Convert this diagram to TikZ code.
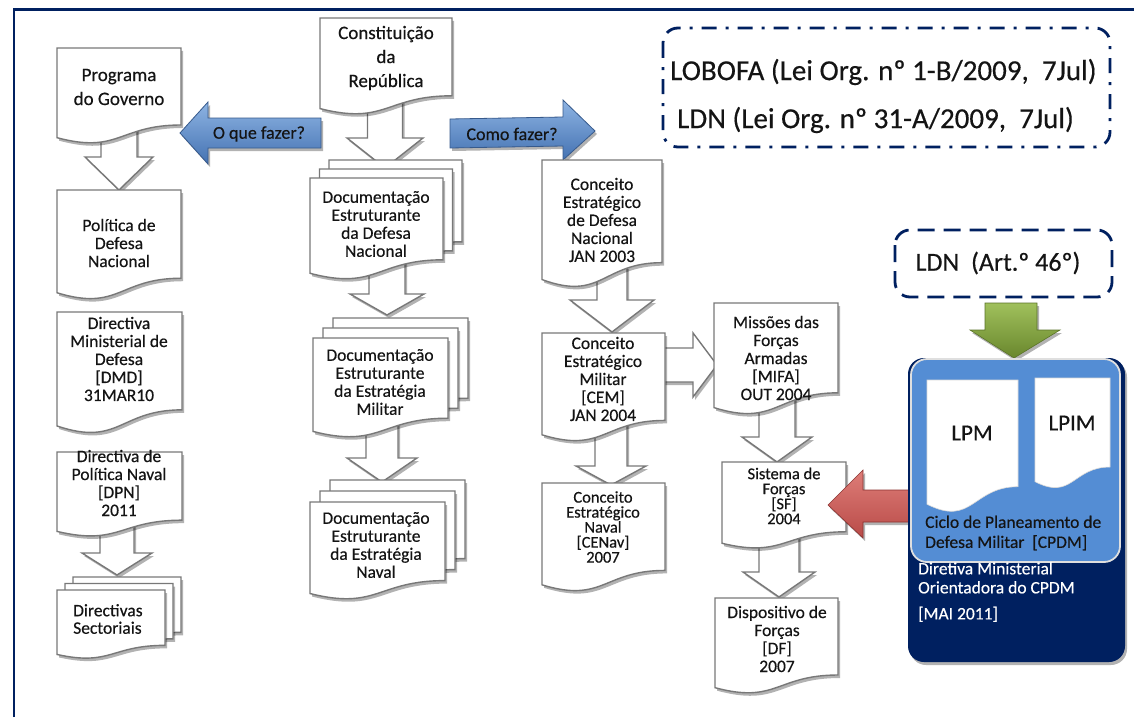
\documentclass[tikz,border=0pt]{standalone}
\usepackage{fontspec}
\setmainfont{Carlito}[FakeBold=0.4]
\usetikzlibrary{calc,fit,shadows}
\definecolor{navy}{RGB}{0,32,96}
\definecolor{lblue}{RGB}{84,141,212}
\definecolor{bluetop}{RGB}{142,180,227}
\definecolor{bluebot}{RGB}{68,114,178}
\definecolor{bluedraw}{RGB}{55,90,140}
\definecolor{greentop}{RGB}{160,192,92}
\definecolor{greenbot}{RGB}{105,135,45}
\definecolor{greendraw}{RGB}{90,115,40}
\definecolor{redtop}{RGB}{222,125,120}
\definecolor{redbot}{RGB}{185,75,72}
\definecolor{reddraw}{RGB}{140,50,48}
\definecolor{boxgray}{RGB}{120,120,120}
\pgfdeclarelayer{arrowlayer}
\pgfdeclarelayer{boxlayer}
\pgfsetlayers{arrowlayer,boxlayer,main}
\tikzset{
  geo/.style={inner sep=0pt, outer sep=0pt, draw=none},
  shad/.style={drop shadow={shadow xshift=2pt, shadow yshift=-3pt, opacity=0.3, fill=black}},
  docline/.style={fill=white, draw=boxgray, line width=1.4pt, shad},
  lpdoc/.style={fill=white, draw=white!85!black, line width=0.6pt},
  warrow/.style={fill=white, draw=boxgray, line width=1.4pt, line join=miter, shad},
  barrow/.style={top color=bluetop, bottom color=bluebot, draw=bluedraw, line width=0.8pt, shad},
  garrow/.style={top color=greentop, bottom color=greenbot, draw=greendraw, line width=0.6pt, shad},
  rarrow/.style={top color=redtop, bottom color=redbot, draw=reddraw, line width=0.6pt, shad},
  txt/.style={align=center, inner sep=0pt, text=black!92},
  boxtext/.style={txt, font=\fontsize{17.5}{18}\selectfont},
  widetext/.style={txt, font=\fontsize{19}{24}\selectfont},
  tighttext/.style={txt, font=\fontsize{16.5}{15}\selectfont},
  lawtext/.style={inner sep=0pt, anchor=west, text=black!92, font=\fontsize{29}{29}\selectfont},
  lawframe/.style={draw=navy, line width=2.8pt, rounded corners=15pt},
}
% document shape drawn round a named node, shifted by (dx,dy)
\newcommand\docshape[4]{%
  \draw[#1] ($(#2.north west)+(#3,#4)$) -- ($(#2.north east)+(#3,#4)$)
    -- ($(#2.north east)!0.802!(#2.south east)+(#3,#4)$)
    .. controls ($(#2.north)!0.802!(#2.south)+(#3,#4)$) and ($(#2.north)!1.107!(#2.south)+(#3,#4)$)
    .. ($(#2.north west)!0.934!(#2.south west)+(#3,#4)$) -- cycle;}
% stacked document: two back pages then the front page
\newcommand\stackshape[3]{%
  \docshape{docline}{#1}{2*#2}{2*#3}
  \docshape{docline}{#1}{#2}{#3}
  \docshape{docline}{#1}{0}{0}}
% white block arrow downwards from node #1 to node #2
% #3 x centre, #4 shaft half width, #5 head half width, #6 head length, #7 tip offset
\newcommand\dnarrow[7]{%
  \coordinate (da) at ($(#3,0 |- #1.south)+(0,-22)$);
  \coordinate (db) at ($(#3,0 |- #2.north)+(0,#7)$);
  \coordinate (dc) at ($(db)+(0,-#6)$);
  \draw[warrow] ($(da)+(-#4,0)$) -- ($(da)+(#4,0)$) -- ($(dc)+(#4,0)$) -- ($(dc)+(#5,0)$)
    -- (db) -- ($(dc)+(-#5,0)$) -- ($(dc)+(-#4,0)$) -- cycle;}
\begin{document}
\begin{tikzpicture}[x=1pt,y=-1pt]
\useasboundingbox (0,0) rectangle (1134,717);
% ---------- geometry nodes ----------
\node[geo, fit={(57,48) (181,144)}] (prog) {};
\node[geo, fit={(320,18) (452,115)}] (const) {};
\node[geo, fit={(57,190) (181,300)}] (pdn) {};
\node[geo, fit={(57,312) (182,434)}] (dmd) {};
\node[geo, fit={(57,452) (182,537)}] (dpn) {};
\node[geo, fit={(57,590) (165,659)}] (sect) {};
\node[geo, fit={(310,178) (443,280)}] (den) {};
\node[geo, fit={(313,338) (448,438)}] (dem) {};
\node[geo, fit={(310,502) (445,600)}] (dnv) {};
\node[geo, fit={(542,160) (662,288)}] (cedn) {};
\node[geo, fit={(542,333) (665,442)}] (cem) {};
\node[geo, fit={(542,483) (665,592)}] (cenav) {};
\node[geo, fit={(714,303) (838,415)}] (mifa) {};
\node[geo, fit={(722,462) (846,549)}] (sf) {};
\node[geo, fit={(715,598) (838,694)}] (df) {};
\node[geo, fit={(663,28) (1110,147)}] (lawbox) {};
\node[geo, fit={(895,230) (1112,297)}] (ldn) {};
\node[geo, fit={(908,358) (1125,662)}] (cpdm) {};
\node[geo, fit={(911,359) (1120,562)}] (cpdmin) {};
\node[geo, fit={(927,380) (1018,513)}] (lpm) {};
\node[geo, fit={(1035,378) (1110,489)}] (lpim) {};

% ---------- background, frame, arrows ----------
\begin{pgfonlayer}{arrowlayer}
\fill[white] (0,0) rectangle (1134,717);
\draw[navy, line width=2.6pt] (14,717) -- (14,9.5) -- (1134,9.5);
\dnarrow{prog}{pdn}{119}{18}{34}{33}{0}
\dnarrow{const}{den}{385}{17.5}{38}{30}{-10}
\dnarrow{den}{dem}{387}{18}{37}{21}{-23}
\dnarrow{dem}{dnv}{382}{16}{35}{24}{-20}
\dnarrow{cedn}{cem}{612}{15}{42}{32}{-1}
\dnarrow{cem}{cenav}{611}{16}{35}{19}{2}
\dnarrow{mifa}{sf}{777}{18}{35}{25}{0}
\dnarrow{sf}{df}{779}{20}{36}{25}{-1}
\dnarrow{dpn}{sect}{117}{17}{35}{22}{-15}
% right white arrow CEM -> MIFA
\coordinate (ra) at ($(cem.east |- 0,365)+(-12,0)$);
\coordinate (rb) at ($(mifa.west |- 0,365)+(3,0)$);
\draw[warrow] ($(ra)+(0,-17)$) -- ($(rb)+(-24,-17)$) -- ($(rb)+(-24,-32)$) -- (rb)
  -- ($(rb)+(-24,32)$) -- ($(rb)+(-24,17)$) -- ($(ra)+(0,17)$) -- cycle;
% blue arrow: O que fazer?
\coordinate (qa) at ($(const.west |- 0,133)+(1,0)$);
\coordinate (qb) at ($(prog.east |- 0,133)+(-1,0)$);
\draw[barrow] ($(qa)+(0,-15)$) -- ($(qb)+(28,-15)$) -- ($(qb)+(28,-31)$) -- (qb)
  -- ($(qb)+(28,31)$) -- ($(qb)+(28,15)$) -- ($(qa)+(0,15)$) -- cycle;
% blue arrow: Como fazer?
\coordinate (ca) at ($(const.east |- 0,133)+(-2,0)$);
\coordinate (cb) at ($(cedn.north west |- 0,131)+(53,0)$);
\draw[barrow] ($(ca)+(0,-14)$) -- ($(cb)+(-32,-14)$) -- ($(cb)+(-32,-31)$) -- (cb)
  -- ($(cb)+(-32,29)$) -- ($(cb)+(-32,15)$) -- ($(ca)+(0,15)$) -- cycle;
% green arrow LDN -> CPDM
\coordinate (ga) at ($(1012,0 |- ldn.south)+(0,6)$);
\coordinate (gb) at (1014,0 |- cpdm.north);
\draw[garrow] ($(ga)+(-27,0)$) -- ($(ga)+(25,0)$) -- ($(gb)+(23,-28)$) -- ($(gb)+(46,-28)$)
  -- (gb) -- ($(gb)+(-44,-28)$) -- ($(gb)+(-29,-28)$) -- cycle;
\end{pgfonlayer}

% ---------- document boxes ----------
\begin{pgfonlayer}{boxlayer}
\docshape{docline}{prog}{0}{0}
\docshape{docline}{const}{0}{0}
\docshape{docline}{pdn}{0}{0}
\docshape{docline}{dmd}{0}{0}
\docshape{docline}{dpn}{0}{0}
\stackshape{sect}{8}{-6.5}
\stackshape{den}{9.5}{-9}
\stackshape{dem}{10}{-10}
\stackshape{dnv}{10}{-11}
\docshape{docline}{cedn}{0}{0}
\docshape{docline}{cem}{0}{0}
\docshape{docline}{cenav}{0}{0}
\docshape{docline}{mifa}{0}{0}
\docshape{docline}{sf}{0}{0}
\docshape{docline}{df}{0}{0}
\draw[lawframe, dash pattern=on 15pt off 9pt on 3pt off 9pt] (lawbox.north west) rectangle (lawbox.south east);
\draw[lawframe, dash pattern=on 17pt off 9pt] (ldn.north west) rectangle (ldn.south east);
\end{pgfonlayer}

% red arrow CPDM -> SF (over the SF box, under the CPDM box)
\coordinate (ka) at ($(cpdm.west |- 0,505)+(10,0)$);
\coordinate (kb) at ($(sf.east |- 0,505)+(-18,0)$);
\draw[rarrow] ($(ka)+(0,-15)$) -- ($(kb)+(35,-15)$) -- ($(kb)+(35,-35)$) -- (kb)
  -- ($(kb)+(35,33)$) -- ($(kb)+(35,17)$) -- ($(ka)+(0,17)$) -- cycle;

% CPDM block
\fill[navy, rounded corners=16pt, shad] (cpdm.north west) rectangle (cpdm.south east);
\draw[fill=lblue, draw=white!75!gray, line width=1.8pt, rounded corners=16pt] (cpdmin.north west) rectangle (cpdmin.south east);
\docshape{lpdoc}{lpm}{0}{0}
\docshape{lpdoc}{lpim}{0}{0}

% ---------- texts ----------
\node[widetext] (progT) at (119,87) {Programa\\do Governo};
\node[widetext] (constT) at (386,58) {Constituição\\da\\República};
\node[boxtext] (pdnT) at (119,243) {Política de\\Defesa\\Nacional};
\node[boxtext] (dmdT) at (119,359) {Directiva\\Ministerial de\\Defesa\\{[DMD]}\\31MAR10};
\node[boxtext] (dpnT) at (119,483) {Directiva de\\Política Naval\\{[DPN]}\\2011};
\node[txt, align=left, anchor=west, font=\fontsize{17.5}{17.5}\selectfont] (sectT) at (73,619) {Directivas\\Sectoriais};
\node[boxtext] (denT) at (376,224) {Documentação\\Estruturante\\da Defesa\\Nacional};
\node[boxtext] (demT) at (380,382) {Documentação\\Estruturante\\da Estratégia\\Militar};
\node[boxtext] (dnvT) at (376,545) {Documentação\\Estruturante\\da Estratégia\\Naval};
\node[boxtext] (cednT) at (602,220) {Conceito\\Estratégico\\de Defesa\\Nacional\\JAN 2003};
\node[boxtext] (cemT) at (603,379) {Conceito\\Estratégico\\Militar\\{[CEM]}\\JAN 2004};
\node[tighttext] (cenavT) at (603,527) {Conceito\\Estratégico\\Naval\\{[CENav]}\\2007};
\node[boxtext] (mifaT) at (776,358) {Missões das\\Forças\\Armadas\\{[MIFA]}\\OUT 2004};
\node[tighttext] (sfT) at (784,496) {Sistema de\\Forças\\{[SF]}\\2004};
\node[boxtext] (dfT) at (777,639) {Dispositivo de\\Forças\\{[DF]}\\2007};
\node[txt, font=\fontsize{18}{18}\selectfont] (qT) at (259,134) {O que fazer?};
\node[txt, font=\fontsize{18}{18}\selectfont] (cT) at (512,134) {Como fazer?};
\node[lawtext] (law1) at (670,72) {LOBOFA (Lei Org. nº 1-B/2009,\ \ 7Jul)};
\node[lawtext] (law2) at (677,120) {LDN (Lei Org. nº 31-A/2009,\ \ 7Jul)};
\node[txt, font=\fontsize{26}{26}\selectfont] (ldnT) at (998,263) {LDN\ \ (Art.º 46º)};
\node[txt, font=\fontsize{23}{23}\selectfont] (lpmT) at (972,433) {LPM};
\node[txt, font=\fontsize{23}{23}\selectfont] (lpimT) at (1072,423) {LPIM};
\node[txt, align=left, anchor=west, font=\fontsize{17.5}{20}\selectfont] (cpdmT) at (925,533) {Ciclo de Planeamento de\\Defesa Militar\ \ [CPDM]};
\node[txt, align=left, anchor=west, text=white, font=\fontsize{17.5}{19}\selectfont] (dmoT) at (918,592) {Diretiva Ministerial\\Orientadora do CPDM\\[7pt]{[MAI 2011]}};
\end{tikzpicture}
\end{document}
